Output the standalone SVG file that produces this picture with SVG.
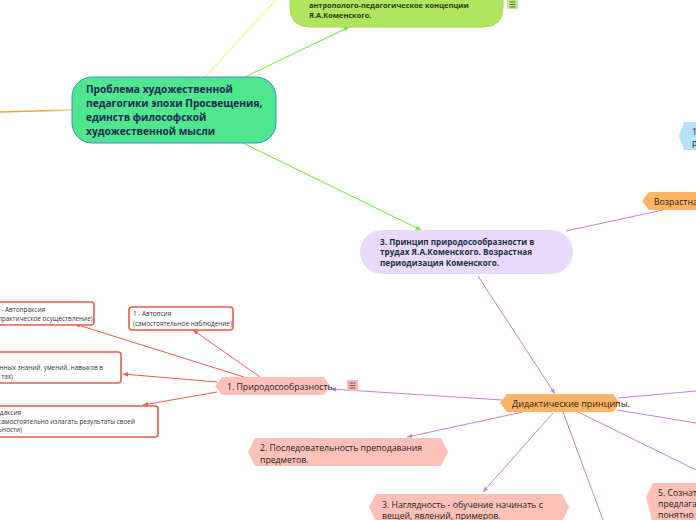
<svg xmlns="http://www.w3.org/2000/svg" width="696" height="520" viewBox="0 0 696 520">
<style>
text{font-family:"Open Sans","Noto Sans","Liberation Sans",sans-serif}
.c-main{font-size:10.2px;fill:#1b2a56;font-weight:bold}
.c-green{font-size:7.4px;fill:#2c3b18;font-weight:bold}
.c-purple{font-size:8.2px;fill:#1f2f44;font-weight:bold}
.c-node{font-size:8.7px;fill:#222}
.c-did{font-size:9px;fill:#222}
.c-small{font-size:6.4px;fill:#333}
.lp{fill:none;stroke:#c27fd8;stroke-width:1}
.lr{fill:none;stroke:#ee5a4d;stroke-width:1}
.lg{fill:none;stroke:#62ea33;stroke-width:1}
.box{fill:#fff;stroke:#ea5a4c;stroke-width:1.6}
.pink{fill:#fec1b8}
.orange{fill:#fdb462}
</style>
<defs>
<marker id="ap" viewBox="0 0 8 8" refX="7" refY="4" markerWidth="6" markerHeight="6" orient="auto"><path d="M0,1 L7,4 L0,7 z" fill="#c27fd8"/></marker>
<marker id="ar" viewBox="0 0 8 8" refX="7" refY="4" markerWidth="6" markerHeight="6" orient="auto"><path d="M0,1 L7,4 L0,7 z" fill="#ee5a4d"/></marker>
<marker id="ag" viewBox="0 0 8 8" refX="7" refY="4" markerWidth="6" markerHeight="6" orient="auto"><path d="M0,1 L7,4 L0,7 z" fill="#62ea33"/></marker>
<linearGradient id="og" x1="0" y1="0" x2="1" y2="0"><stop offset="0" stop-color="#f0a030"/><stop offset="0.6" stop-color="#f4a640"/><stop offset="1" stop-color="#fcd090"/></linearGradient>
</defs>

<g id="connectors">
<path d="M0,112 L72,110" stroke="url(#og)" stroke-width="1.5" fill="none"/>
<path d="M205,77 L276,0" stroke="#eef03a" stroke-width="1" fill="none"/>
<path class="lg" d="M245,77 L349,27" marker-end="url(#ag)"/>
<path class="lg" d="M243,143 L421,230" marker-end="url(#ag)"/>
<path class="lp" d="M566,231 L663,210"/>
<path class="lp" d="M478,276 L555,394" marker-end="url(#ap)"/>
<path class="lp" d="M618,398 L696,391"/>
<path class="lp" d="M617,410 L696,423"/>
<path class="lp" d="M578,412 L696,470"/>
<path class="lp" d="M563,412 L603,520"/>
<path class="lp" d="M553,413 L483,492" marker-end="url(#ap)"/>
<path class="lp" d="M502,400 L331,389" marker-end="url(#ap)"/>
<path class="lp" d="M523,412 L407,437" marker-end="url(#ap)"/>
<path class="lr" d="M260,377 L193,330" marker-end="url(#ar)"/>
<path class="lr" d="M244,377 L75,324" marker-end="url(#ar)"/>
<path class="lr" d="M217,382 L123,374" marker-end="url(#ar)"/>
<path class="lr" d="M217,392 L143,405" marker-end="url(#ar)"/>
</g>

<g id="node-main">
<rect x="72" y="77" width="204" height="66" rx="20" fill="#4fe68d" stroke="#3b8ed8" stroke-width="1"/>
<text class="c-main" x="86" y="93">Проблема художественной</text>
<text class="c-main" x="86" y="107">педагогики эпохи Просвещения,</text>
<text class="c-main" x="86" y="121">единств философской</text>
<text class="c-main" x="86" y="135">художественной мысли</text>
</g>

<g id="node-anthro">
<path d="M290,-10 L503,-10 L503,7 Q503,27 483,27 L310,27 Q290,27 290,7 Z" fill="#b0e55f" stroke="#a3d653" stroke-width="1"/>
<text class="c-green" x="309" y="8">антрополого-педагогическое концепции</text>
<text class="c-green" x="309" y="18">Я.А.Коменского.</text>
<rect x="507" y="-1" width="11" height="10" fill="#c4ec8c"/>
<path d="M509.5,2 h6 M509.5,4.5 h6 M509.5,7 h6" stroke="#3a4a20" stroke-width="0.8"/>
</g>

<g id="node-principle">
<rect x="360" y="230" width="213" height="44" rx="22" fill="#e9dafc"/>
<text class="c-purple" x="380" y="244.5">3. Принцип природосообразности в</text>
<text class="c-purple" x="380" y="255">трудах Я.А.Коменского. Возрастная</text>
<text class="c-purple" x="380" y="265.5">периодизация Коменского.</text>
</g>

<g id="node-age">
<path d="M642,201 L649,192 L700,192 L700,210 L649,210 Z" class="orange"/>
<text class="c-node" x="654" y="205">Возрастна</text>
</g>

<g id="node-blue">
<path d="M679,136 L684,122 L700,122 L700,150 L684,150 Z" fill="#b4e1fb"/>
<text class="c-node" x="692" y="135">1</text>
<text class="c-node" x="692" y="146">р</text>
</g>

<g id="node-didactic">
<path d="M500,403 L507,394 L613,394 L620,403 L613,412 L507,412 Z" class="orange"/>
<text class="c-did" x="512" y="407">Дидактические принципы.</text>
</g>

<g id="node-p1">
<path d="M215,386 L222,377 L324,377 L330,386 L324,395 L222,395 Z" class="pink"/>
<text class="c-node" x="227" y="390">1. Природосообразность.</text>
<rect x="347" y="380" width="11" height="11" fill="#fcb8b0"/>
<path d="M349.5,383 h6 M349.5,385.5 h6 M349.5,388 h6" stroke="#444" stroke-width="0.8"/>
</g>

<g id="node-p2">
<path d="M248,452 L255,438 L441,438 L448,452 L441,466 L255,466 Z" class="pink"/>
<text class="c-node" x="260" y="451">2. Последовательность преподавания</text>
<text class="c-node" x="260" y="463">предметов.</text>
</g>

<g id="node-p3">
<path d="M369,507 L376,494 L562,494 L569,507 L562,522 L376,522 Z" class="pink"/>
<text class="c-node" x="382" y="508">3. Наглядность - обучение начинать с</text>
<text class="c-node" x="382" y="519">вещей, явлений, примеров.</text>
</g>

<g id="node-p5">
<path d="M646,497 L653,483 L700,483 L700,525 L653,525 Z" class="pink"/>
<text class="c-node" x="658" y="496">5. Сознат</text>
<text class="c-node" x="658" y="507">предлага</text>
<text class="c-node" x="658" y="518">понятно</text>
</g>

<g id="box-autopsy">
<rect x="129" y="307" width="104" height="23" rx="3" class="box"/>
<text class="c-small" x="133" y="316">1 - Автопсия</text>
<text class="c-small" x="133" y="325.5">(самостоятельное наблюдение)</text>
</g>

<g id="box-autopraxy">
<rect x="-8" y="302" width="102" height="23" rx="3" class="box"/>
<text class="c-small" x="-4" y="312">2 - Автопраксия</text>
<text class="c-small" x="-4" y="321">(практическое осуществление)</text>
</g>

<g id="box-3">
<rect x="-40" y="352" width="161" height="31" rx="3" class="box"/>
<text class="c-small" x="103" y="370" text-anchor="end">ленных знаний, умений, навыков в</text>
<text class="c-small" x="13" y="379" text-anchor="end">тах)</text>
</g>

<g id="box-4">
<rect x="-40" y="406" width="198" height="31" rx="3" class="box"/>
<text class="c-small" x="21" y="415" text-anchor="end">даксия</text>
<text class="c-small" x="135" y="424" text-anchor="end">е самостоятельно излагать результаты своей</text>
<text class="c-small" x="22" y="432" text-anchor="end">ьности)</text>
</g>
</svg>
